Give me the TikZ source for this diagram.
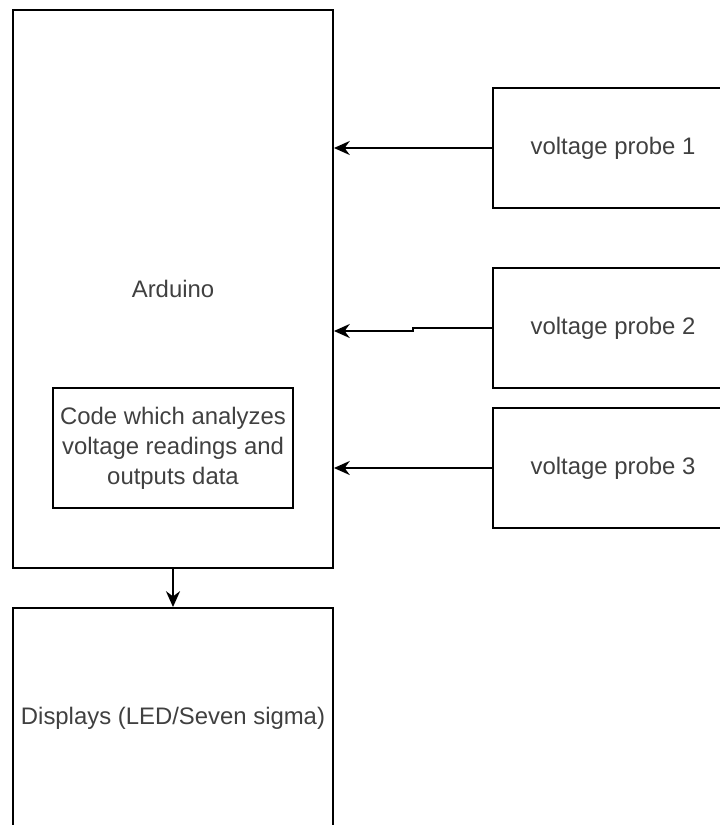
\documentclass[tikz,border=0pt]{standalone}
\usepackage{fontspec}
\setmainfont{Liberation Sans}
\usetikzlibrary{arrows.meta}

\tikzset{
  block/.style={draw, line width=1.1pt, rectangle, align=center, font=\fontsize{13.6}{17}\selectfont, text=black!75},
  probe/.style={block, minimum width=240*0.02cm, minimum height=120*0.02cm},
  flow/.style={draw, line width=1pt, -{Stealth[length=9pt, width=8pt]}},
}

\begin{document}
\begin{tikzpicture}[x=0.02cm, y=-0.02cm]
  \useasboundingbox (0,0) rectangle (720,825);
  \clip (0,0) rectangle (720,825);

  % Main board and the code on it
  \node[block, minimum width=320*0.02cm, minimum height=558*0.02cm] (arduino) at (173, 289) {Arduino};
  \node[block, minimum width=240*0.02cm, minimum height=120*0.02cm] (code) at (173, 448) {Code which analyzes\\voltage readings and\\outputs data};

  % Output (runs past the lower edge)
  \node[block, minimum width=320*0.02cm, minimum height=220*0.02cm] (displays) at (173, 718) {Displays (LED/Seven sigma)};

  % Probes (run past the right edge)
  \node[probe] (probe1) at (613, 148) {voltage probe 1};
  \node[probe] (probe2) at (613, 328) {voltage probe 2};
  \node[probe] (probe3) at (613, 468) {voltage probe 3};

  \coordinate (bend2) at (413, 331);

  % Connections
  \draw[flow] (probe1.west) -- (probe1.west -| arduino.east);
  \draw[flow] (probe2.west) -| (bend2) -- (bend2 -| arduino.east);
  \draw[flow] (probe3.west) -- (probe3.west -| arduino.east);
  \draw[flow] (arduino.south) -- (displays.north);
\end{tikzpicture}
\end{document}
